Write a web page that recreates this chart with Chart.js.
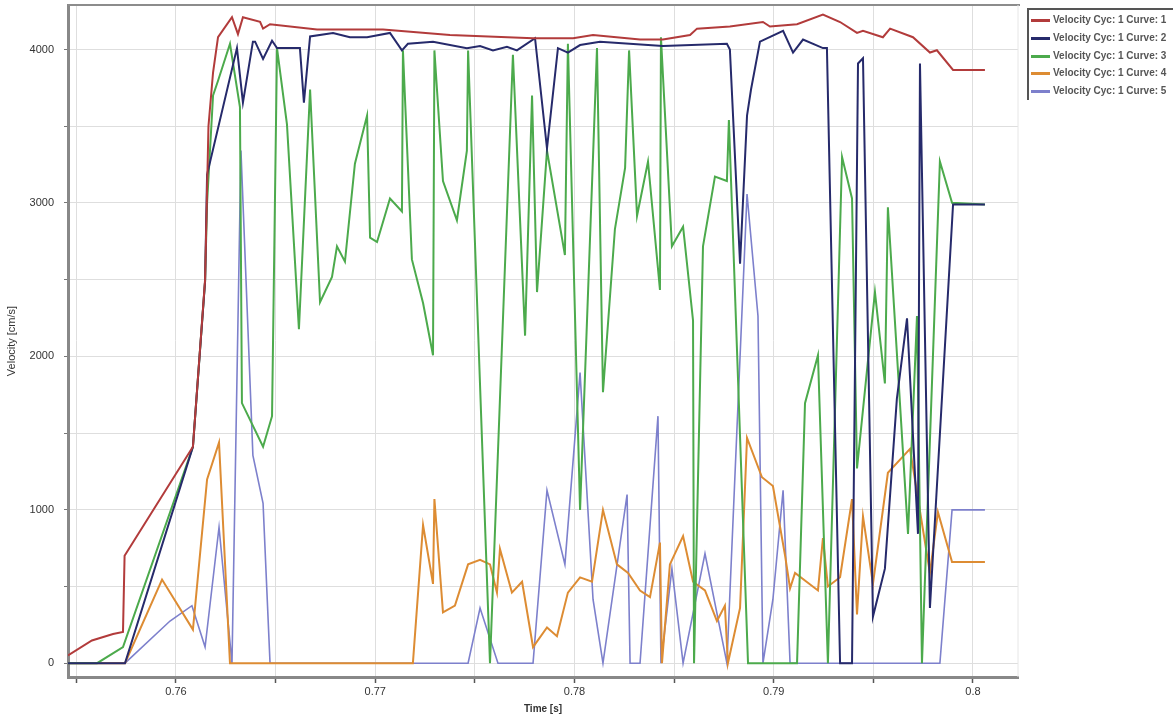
<!DOCTYPE html>
<html>
<head>
<meta charset="utf-8">
<script src="https://cdn.jsdelivr.net/npm/chart.js@4.4.1/dist/chart.umd.min.js"></script>
<style>
  html, body { margin:0; padding:0; background:#fff; }
  #wrap { position:absolute; left:0; top:0; width:1173px; height:717px; }
  #legend { position:absolute; left:1027px; top:8px; width:160px; height:92px;
            border-left:2px solid #555; border-top:2px solid #555; box-sizing:border-box;
            font-family:"Liberation Sans", Arial, sans-serif; font-weight:bold; font-size:10px; color:#555; }
  .row { position:absolute; left:2px; height:12px; white-space:nowrap; }
  .sw { position:absolute; left:0; top:5px; width:19px; height:3px; }
  .tx { position:absolute; left:22px; top:0; line-height:12px; }
</style>
</head>
<body>
<div id="wrap"><canvas id="c"></canvas></div>
<div id="legend"></div>
<script>
// ---- data (time in s, velocity in cm/s) ----
const seriesLabels = ["Velocity Cyc: 1 Curve: 1", "Velocity Cyc: 1 Curve: 2", "Velocity Cyc: 1 Curve: 3", "Velocity Cyc: 1 Curve: 4", "Velocity Cyc: 1 Curve: 5"];
const seriesColors = ["#b23b3b", "#262a6b", "#4caa4c", "#dd8c33", "#7d80cc"];

const t1 = [0.75458,0.75578,0.75684,0.75734,0.75742,0.76085,0.76146,0.76163,0.76186,0.76211,0.76281,0.76311,0.76336,0.76422,0.76437,0.76472,0.76708,0.77039,0.77375,0.77792,0.77993,0.78093,0.78329,0.78444,0.7858,0.78615,0.7878,0.78946,0.78981,0.79117,0.79247,0.79333,0.79418,0.79448,0.79548,0.79584,0.79699,0.79784,0.79819,0.799,0.8006];
const v1 = [50,148,190,204,700,1411,2500,3500,3850,4080,4210,4100,4210,4180,4136,4165,4131,4131,4094,4074,4074,4094,4065,4065,4094,4136,4150,4179,4150,4165,4228,4179,4108,4122,4080,4136,4080,3980,3995,3867,3867];

const t2 = [0.75458,0.75744,0.76085,0.76146,0.76156,0.76306,0.76336,0.76386,0.76397,0.76437,0.76482,0.76507,0.76622,0.76642,0.76673,0.76788,0.76873,0.76959,0.77074,0.77134,0.77164,0.7729,0.7746,0.77526,0.77591,0.77661,0.77711,0.77802,0.77862,0.77917,0.77967,0.78028,0.78128,0.78444,0.78765,0.7878,0.78831,0.78866,0.78886,0.78931,0.79047,0.79097,0.79147,0.79247,0.79267,0.79333,0.79393,0.79423,0.79448,0.79498,0.79558,0.79618,0.79669,0.79724,0.79734,0.79784,0.799,0.8006];
const v2 = [0,0,1411,2490,3185,4009,3654,4051,4051,3938,4057,4009,4009,3654,4085,4108,4080,4080,4108,3994,4037,4051,4009,4023,3994,4017,3994,4074,3356,4009,3980,4029,4051,4023,4037,4000,2603,3569,3739,4051,4122,3980,4065,4009,4009,0,0,3909,3943,304,616,1723,2248,843,3909,360,2990,2990];

const t3 = [0.75458,0.75604,0.75734,0.76085,0.76146,0.76156,0.76186,0.76211,0.76271,0.76321,0.76331,0.76437,0.76482,0.76507,0.76557,0.76617,0.76673,0.76723,0.76783,0.76808,0.76848,0.76898,0.76959,0.76974,0.77009,0.77074,0.77134,0.77139,0.77184,0.7724,0.7729,0.77297,0.7734,0.7741,0.7746,0.77466,0.77576,0.77691,0.77752,0.77787,0.77812,0.77862,0.77952,0.77967,0.78028,0.78113,0.78143,0.78203,0.78254,0.78274,0.78314,0.78369,0.78429,0.78434,0.78489,0.78545,0.78595,0.786,0.78645,0.78705,0.78765,0.78775,0.78871,0.79117,0.79157,0.79222,0.79272,0.79343,0.79393,0.79418,0.79508,0.79558,0.79573,0.79674,0.79719,0.79744,0.79834,0.79895,0.8006];
const v3 = [0,0,105,1411,2490,3000,3700,3796,4037,3625,1695,1411,1610,4009,3512,2177,3739,2353,2518,2717,2617,3256,3569,2774,2745,3029,2944,3994,2632,2348,2007,3994,3143,2887,3341,3994,0,3966,2135,3700,2419,3341,2660,4037,999,4009,1766,2830,3228,3994,2916,3270,2433,4080,2717,2845,2234,0,2717,3171,3143,3540,0,0,1695,2007,0,3299,3029,1269,2419,1823,2972,843,2263,0,3270,3001,2990];

const t4 = [0.75458,0.75744,0.7593,0.76085,0.76156,0.76216,0.76271,0.77189,0.7724,0.7729,0.77297,0.7734,0.774,0.77466,0.77526,0.77576,0.77611,0.77626,0.77686,0.77737,0.77792,0.77862,0.77912,0.77967,0.78028,0.78088,0.78143,0.78213,0.78269,0.78329,0.78379,0.78429,0.78439,0.78479,0.78545,0.78595,0.78655,0.78715,0.78755,0.7877,0.78831,0.78866,0.78941,0.78996,0.79057,0.79082,0.79107,0.79222,0.79247,0.79272,0.79333,0.79393,0.79418,0.79448,0.79498,0.79573,0.79684,0.79784,0.79824,0.79895,0.8006];
const v4 = [0,0,545,219,1198,1439,0,0,900,517,1070,332,375,644,673,644,460,744,460,531,105,233,176,460,559,531,999,644,588,474,431,786,0,644,829,531,474,275,375,0,360,1468,1212,1155,701,488,588,474,815,500,560,1070,318,957,517,1241,1397,588,985,659,659];

const t5 = [0.75458,0.75744,0.7597,0.7608,0.76146,0.76216,0.76281,0.76326,0.76386,0.76437,0.76472,0.77466,0.77526,0.77616,0.77792,0.77862,0.77952,0.78028,0.78093,0.78143,0.78264,0.78279,0.78329,0.78419,0.78434,0.78489,0.78545,0.78655,0.78765,0.78866,0.78921,0.78946,0.78996,0.79047,0.79082,0.79834,0.79895,0.8006];
const v5 = [0,0,275,375,105,886,0,3341,1354,1042,0,0,360,0,0,1127,644,1894,417,0,1099,0,0,1610,0,616,0,715,0,3058,2263,0,417,1127,0,0,999,999];

const xTickValues = [0.755,0.76,0.765,0.77,0.775,0.78,0.785,0.79,0.795,0.8];
const xTickLabels = ["","0.76","","0.77","","0.78","","0.79","","0.8"];
const yTickValues = [0,500,1000,1500,2000,2500,3000,3500,4000];
const yTickLabels = ["0","","1000","","2000","","3000","","4000"];
const xTitle = "Time [s]";
const yTitle = "Velocity [cm/s]";

// ---- build ----
const times = [t1,t2,t3,t4,t5];
const vels = [v1,v2,v3,v4,v5];
const datasets = seriesLabels.map((lab, i) => ({
  label: lab,
  data: times[i].map((t, k) => ({x: t, y: vels[i][k]})),
  borderColor: seriesColors[i],
  backgroundColor: seriesColors[i],
  borderWidth: i === 4 ? 1.6 : 2,
  pointRadius: 0,
  tension: 0,
  fill: false
}));

const FONT = '"Liberation Sans", Arial, sans-serif';

const framePlugin = {
  id: 'frame',
  afterDraw(chart) {
    const {ctx, chartArea: a} = chart;
    ctx.save();
    ctx.strokeStyle = '#8c8c8c';
    ctx.lineWidth = 2;
    ctx.beginPath();
    ctx.moveTo(a.left, a.top);
    ctx.lineTo(a.right + 2, a.top);
    ctx.stroke();
    ctx.strokeStyle = '#e6e6e6';
    ctx.lineWidth = 1;
    ctx.beginPath();
    ctx.moveTo(a.right, a.top);
    ctx.lineTo(a.right, a.bottom);
    ctx.stroke();
    ctx.restore();
  }
};

function noPad(s) { s.paddingTop = 0; s.paddingBottom = 0; s.paddingLeft = 0; s.paddingRight = 0; }

new Chart(document.getElementById('c'), {
  type: 'line',
  data: { datasets },
  plugins: [framePlugin],
  options: {
    responsive: true,
    maintainAspectRatio: false,
    animation: false,
    events: [],
    layout: { padding: { left: 0, right: 155, top: 5, bottom: 0 } },
    plugins: { legend: { display: false }, tooltip: { enabled: false } },
    scales: {
      x: {
        type: 'linear',
        min: 0.75458,
        max: 0.80226,
        afterBuildTicks: s => { s.ticks = xTickValues.map(v => ({value: v})); },
        afterFit: s => { s.height = 40; noPad(s); },
        ticks: {
          autoSkip: false, maxRotation: 0, padding: 2,
          color: '#333', font: { family: FONT, size: 11 },
          callback: (val, idx) => xTickLabels[idx]
        },
        grid: { color: '#dedede', lineWidth: 1, tickLength: 6, tickColor: '#555', tickWidth: 1.5 },
        border: { display: true, color: '#888', width: 3 },
        title: { display: true, text: xTitle, color: '#333', font: { family: FONT, size: 10, weight: 'bold' }, padding: { top: 0, bottom: 2 } }
      },
      y: {
        type: 'linear',
        min: -90,
        max: 4290,
        afterBuildTicks: s => { s.ticks = yTickValues.map(v => ({value: v})); },
        afterFit: s => { s.width = 68; noPad(s); },
        ticks: {
          autoSkip: false, padding: 10,
          color: '#333', font: { family: FONT, size: 11 },
          callback: (val, idx) => yTickLabels[idx]
        },
        grid: { color: '#dedede', lineWidth: 1, tickLength: 4, tickColor: '#777' },
        border: { display: true, color: '#888', width: 3 },
        title: { display: true, text: yTitle, color: '#333', font: { family: FONT, size: 11 }, padding: { top: 5, bottom: 0 } }
      }
    }
  }
});

// ---- legend (HTML, from the same labels/colours) ----
const lg = document.getElementById('legend');
seriesLabels.forEach((lab, i) => {
  const r = document.createElement('div');
  r.className = 'row';
  r.style.top = (4 + i * 17.8) + 'px';
  r.innerHTML = '<span class="sw" style="background:' + seriesColors[i] + '"></span><span class="tx"></span>';
  r.querySelector('.tx').textContent = lab;
  lg.appendChild(r);
});
</script>
</body>
</html>
